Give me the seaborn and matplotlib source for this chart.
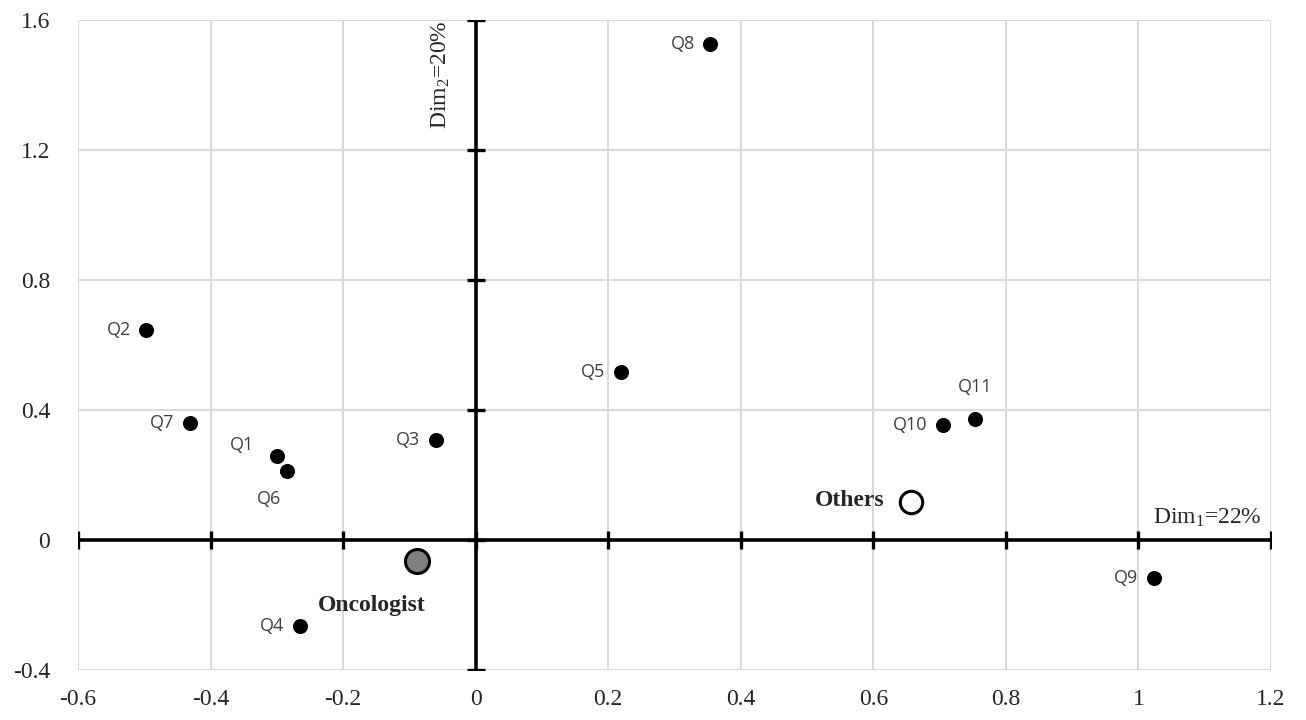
import numpy as np
import pandas as pd
import seaborn as sns
import matplotlib.pyplot as plt

# Souřadnice otázek v rovině dimenzí
q_labels = ['Q1', 'Q2', 'Q3', 'Q4', 'Q5', 'Q6', 'Q7', 'Q8', 'Q9', 'Q10', 'Q11']
q_dim1 = [-0.300, -0.497, -0.060, -0.265, 0.219, -0.285, -0.431, 0.354, 1.023, 0.705, 0.753]
q_dim2 = [0.258, 0.646, 0.308, -0.265, 0.517, 0.212, 0.360, 1.526, -0.117, 0.354, 0.372]

# Skupiny respondentů
group_labels = ['Oncologist', 'Others']
group_dim1 = [-0.089, 0.657]
group_dim2 = [-0.065, 0.117]

x_ticks = [-0.6, -0.4, -0.2, 0, 0.2, 0.4, 0.6, 0.8, 1.0, 1.2]
y_ticks = [-0.4, 0, 0.4, 0.8, 1.2, 1.6]

sns.set_style('white')
plt.rcParams['font.family'] = ['Liberation Serif', 'DejaVu Serif']
plt.rcParams['axes.unicode_minus'] = False
plt.rcParams['mathtext.fontset'] = 'custom'
plt.rcParams['mathtext.rm'] = 'Liberation Serif'
plt.rcParams['mathtext.it'] = 'Liberation Serif'

questions = pd.DataFrame({'label': q_labels, 'dim1': q_dim1, 'dim2': q_dim2})
groups = pd.DataFrame({'label': group_labels, 'dim1': group_dim1, 'dim2': group_dim2})

fig = plt.figure(figsize=(13.06, 7.2), dpi=100)
ax = fig.add_axes([0.0597, 0.0694, 0.9135, 0.9028])

# mřížka
for x in x_ticks:
    ax.axvline(x, color='#d9d9d9', lw=1.4, zorder=0)
for y in y_ticks:
    ax.axhline(y, color='#d9d9d9', lw=1.4, zorder=0)

# osy přes počátek s vlastními značkami
ax.plot([x_ticks[0], x_ticks[-1]], [0, 0], color='black', lw=2.6, zorder=2)
ax.plot([0, 0], [y_ticks[0], y_ticks[-1]], color='black', lw=2.6, zorder=2)
ax.plot(x_ticks, np.zeros(len(x_ticks)), ls='none', marker='|', ms=13, mew=2.4, color='black', zorder=2)
ax.plot(np.zeros(len(y_ticks)), y_ticks, ls='none', marker='_', ms=13, mew=2.4, color='black', zorder=2)

# body otázek
sns.scatterplot(data=questions, x='dim1', y='dim2', color='black', s=100, edgecolor='black', ax=ax, zorder=3)
sns.scatterplot(data=groups.iloc[[0]], x='dim1', y='dim2', color='#808080', s=300,
                edgecolor='black', linewidth=2.2, ax=ax, zorder=3)
sns.scatterplot(data=groups.iloc[[1]], x='dim1', y='dim2', color='white', s=260,
                edgecolor='black', linewidth=2.2, ax=ax, zorder=3)

# popisky otázek
offsets = {'Q1': (-16, 8, 'right'), 'Q6': (-4, -20, 'right'), 'Q11': (0, 23, 'center')}
for _, r in questions.iterrows():
    dx, dy, ha = offsets.get(r['label'], (-11, 0, 'right'))
    ax.annotate(r['label'], (r['dim1'], r['dim2']), xytext=(dx, dy), textcoords='offset points',
                ha=ha, va='center', fontsize=13, color='#404040', family=['Open Sans', 'DejaVu Sans'])

ax.annotate('Oncologist', (group_dim1[0], group_dim2[0]), xytext=(-32, -32), textcoords='offset points',
            ha='center', va='center', fontsize=17, fontweight='bold')
ax.annotate('Others', (group_dim1[1], group_dim2[1]), xytext=(-19, 1), textcoords='offset points',
            ha='right', va='center', fontsize=17, fontweight='bold')

ax.text(1.186, 0.035, 'Dim$_{1}$=22%', ha='right', va='bottom', fontsize=17)
ax.text(-0.052, 1.6, 'Dim$_{2}$=20%', ha='center', va='top', rotation=90, fontsize=17)

ax.set_xlim(x_ticks[0], x_ticks[-1])
ax.set_ylim(y_ticks[0], y_ticks[-1])
ax.set_xticks(x_ticks)
ax.set_yticks(y_ticks)
ax.set_xticklabels([f'{v:g}' for v in x_ticks])
ax.set_yticklabels([f'{v:g}' for v in y_ticks])
ax.tick_params(axis='both', length=0, labelsize=17)
ax.tick_params(axis='y', pad=20)
ax.tick_params(axis='x', pad=14)
ax.set_xlabel('')
ax.set_ylabel('')
for s in ax.spines.values():
    s.set_visible(False)

fig.savefig('out.png', dpi=100)
